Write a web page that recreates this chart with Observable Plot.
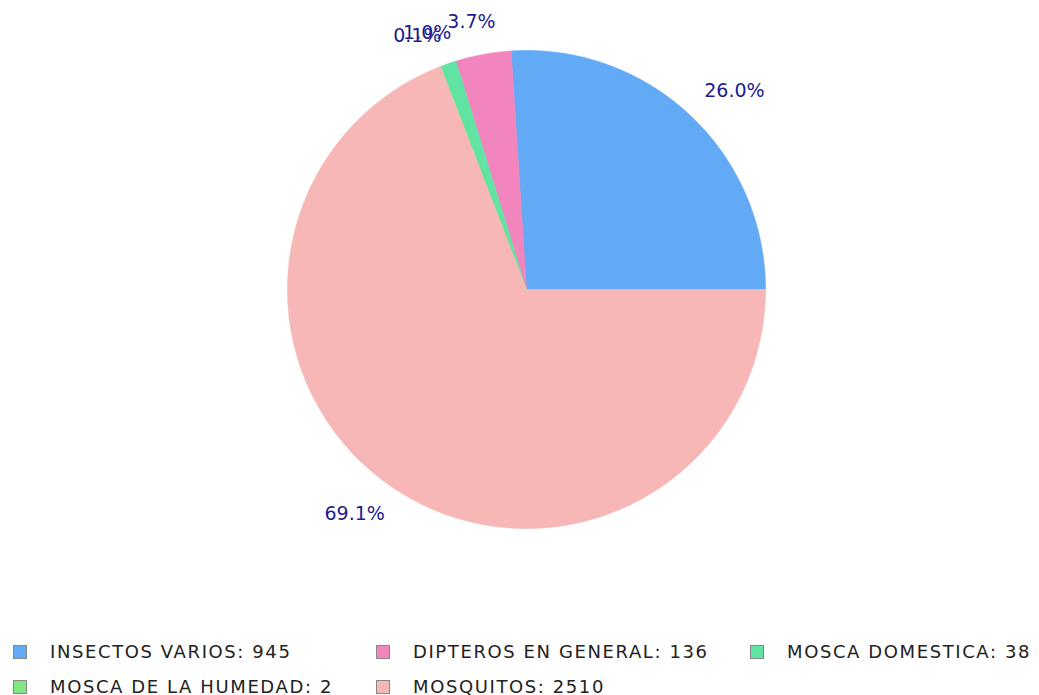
<!DOCTYPE html>
<html>
<head>
<meta charset="utf-8">
<script src="https://cdn.jsdelivr.net/npm/d3@7"></script>
<script src="https://cdn.jsdelivr.net/npm/@observablehq/plot@0.6"></script>
<style>
  body { margin: 0; background: #fff; font-family: "DejaVu Sans", sans-serif; }
  #chart { position: relative; width: 1039px; }
  .legend { position: relative; width: 1039px; height: 70px; }
  .item { position: absolute; display: flex; align-items: center; font-size: 18px; letter-spacing: 1.6px; color: #222; white-space: nowrap; height: 35px; }
  .sw { width: 12px; height: 12px; border: 1px solid #888; margin-right: 23px; box-sizing: content-box; }
</style>
</head>
<body>
<div id="chart"></div>
<script>
const categories = ["INSECTOS VARIOS", "DIPTEROS EN GENERAL", "MOSCA DOMESTICA", "MOSCA DE LA HUMEDAD", "MOSQUITOS"];
const values = [945, 136, 38, 2, 2510];
const colors = ["#62aaf6", "#f285be", "#60e3a3", "#80e880", "#f7b7b7"];

const total = d3.sum(values);
const slices = [];
let acc = 0;
categories.forEach((c, i) => {
  const a0 = acc / total * 2 * Math.PI;
  acc += values[i];
  const a1 = acc / total * 2 * Math.PI;
  const pts = [{x: 0, y: 0}];
  const n = Math.max(2, Math.ceil((a1 - a0) / (Math.PI / 360)));
  for (let k = 0; k <= n; k++) {
    const a = a0 + (a1 - a0) * k / n;
    pts.push({x: Math.cos(a), y: Math.sin(a)});
  }
  pts.push({x: 0, y: 0});
  const mid = (a0 + a1) / 2;
  slices.push({cat: c, color: colors[i], pts, mid, pct: (values[i] / total * 100).toFixed(1) + "%"});
});

const labels = slices.map(s => ({x: 1.272 * Math.cos(s.mid), y: 1.138 * Math.sin(s.mid), t: s.pct}));

const marks = slices.map(s => Plot.line(s.pts, {x: "x", y: "y", fill: s.color, stroke: s.color, strokeWidth: 0.6, curve: "linear"}));
marks.push(Plot.text(labels, {x: "x", y: "y", text: "t", fill: "#1c1c90", fontSize: 19, textAnchor: "middle", fontFamily: "DejaVu Sans"}));

const plot = Plot.plot({
  width: 1039,
  height: 634,
  margin: 0,
  x: {domain: [-1, 1], range: [287, 765], axis: null},
  y: {domain: [-1, 1], range: [528, 50], axis: null},
  style: {background: "#fff", fontFamily: "DejaVu Sans"},
  marks
});
document.getElementById("chart").appendChild(plot);

const legend = document.createElement("div");
legend.className = "legend";
const colLeft = [13, 376, 750];
categories.forEach((c, i) => {
  const it = document.createElement("div");
  it.className = "item";
  it.style.left = colLeft[i % 3] + "px";
  it.style.top = (Math.floor(i / 3) * 35) + "px";
  const sw = document.createElement("div");
  sw.className = "sw";
  sw.style.background = colors[i];
  it.appendChild(sw);
  const tx = document.createElement("span");
  tx.textContent = c + ": " + values[i];
  it.appendChild(tx);
  legend.appendChild(it);
});
document.getElementById("chart").appendChild(legend);
</script>
</body>
</html>
